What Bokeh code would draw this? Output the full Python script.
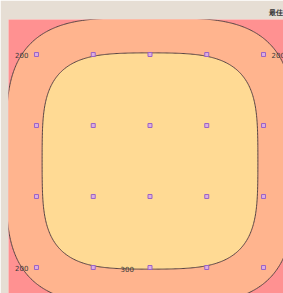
import re
import numpy as np
from bokeh.plotting import figure
from bokeh.models import Range1d
from bokeh.embed import file_html
from bokeh.resources import INLINE
from bokeh.core.properties import value

# ---- data -------------------------------------------------------------
grid_x = [0, 1, 2, 3, 4]          # sample columns
grid_y = [0, 1, 2, 3]             # sample rows
weights = [                       # weight of every sample point (row by row)
    [100, 80, 80, 80, 100],
    [80, 80, 80, 80, 80],
    [80, 80, 80, 80, 80],
    [100, 80, 80, 80, 100],
]
levels = [200, 300]
level_labels = ["200", "300"]
title_text = "最佳 : 300"

# ---- style --------------------------------------------------------------
BG = "#e6ded4"
OUTER = "#ff9191"
MID = "#ffb48e"
INNER = "#ffda94"
LINE = "#554444"
sx, sy = 1.0, 0.8                 # kernel bandwidth (data units)

px, py = np.meshgrid(np.array(grid_x, float), np.array(grid_y, float))
pw = np.array(weights, float)


def field(X, Y):
    Z = np.zeros_like(np.asarray(X, float) + np.asarray(Y, float))
    for xi, yi, wi in zip(px.ravel(), py.ravel(), pw.ravel()):
        Z = Z + wi * np.exp(-0.5 * ((X - xi) / sx) ** 2 - 0.5 * ((Y - yi) / sy) ** 2)
    return Z


gx = np.linspace(-0.8, 4.8, 281)
gy = np.linspace(-0.8, 3.8, 231)
X, Y = np.meshgrid(gx, gy)
Z = field(X, Y)

p = figure(width=283, height=293, output_backend="svg", toolbar_location=None,
           x_range=Range1d(-0.493, 4.352), y_range=Range1d(-0.366, 3.493),
           title=title_text, min_border_left=8, min_border_right=0,
           min_border_bottom=0, min_border_top=19)
p.axis.visible = False
p.grid.visible = False
p.outline_line_color = None
p.background_fill_color = OUTER
p.border_fill_color = BG

p.title.align = "left"
p.title.offset = 260
p.title.text_font_size = "7px"
p.title.text_color = "#333333"
p.title.standoff = 7

p.contour(gx, gy, Z, levels=[levels[0], levels[1], float(Z.max()) + 1.0],
          fill_color=[MID, INNER], line_color=LINE, line_width=1)

p.scatter(px.ravel(), py.ravel(), marker="square", size=4,
          fill_color="#dcaee0", line_color="#9b63c6", line_width=1)


# contour labels where the contours cross sample rows / a column
def cross_x(yv, level, lo, hi):
    xs = np.linspace(lo, hi, 2000)
    z = field(xs, np.full_like(xs, yv))
    return float(xs[np.argmin(np.abs(z - level))])


def cross_y(xv, level, lo, hi):
    ys = np.linspace(lo, hi, 2000)
    z = field(np.full_like(ys, xv), ys)
    return float(ys[np.argmin(np.abs(z - level))])


inner_lab_x = grid_x[1] + 0.6 * (grid_x[2] - grid_x[1])
lab_x = [cross_x(grid_y[-1], levels[0], -0.8, grid_x[2]),
         cross_x(grid_y[0], levels[0], -0.8, grid_x[2]),
         cross_x(grid_y[-1], levels[0], grid_x[2], 4.8),
         inner_lab_x]
lab_y = [grid_y[-1], grid_y[0], grid_y[-1],
         cross_y(inner_lab_x, levels[1], -0.8, grid_y[1])]
lab_t = [level_labels[0], level_labels[0], level_labels[0], level_labels[1]]

p.text(lab_x, lab_y, text=lab_t, text_align="center", text_baseline="middle",
       text_font_size="7px", text_color="#3a3a3a", text_font=value("DejaVu Sans"))

html = file_html(p, INLINE)
html = re.sub(r"<body([^>]*)>", r'<body\1 style="background-color:%s;">' % BG, html, count=1)
open("out.html", "w").write(html)
